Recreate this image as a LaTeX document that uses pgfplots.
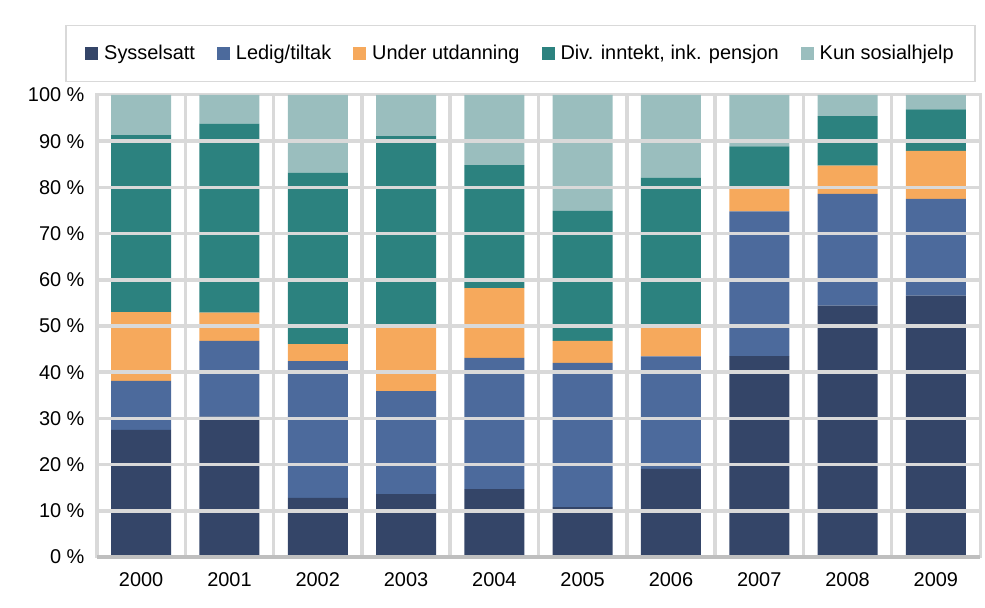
\documentclass[border=0pt]{standalone}
\usepackage{fontspec}
\setmainfont{Liberation Sans}
\usepackage{pgfplots}
\usepackage{pgfplotstable}
\pgfplotsset{compat=1.18}

\definecolor{syss}{HTML}{344568}
\definecolor{ledig}{HTML}{4C6A9C}
\definecolor{utd}{HTML}{F6A95C}
\definecolor{div}{HTML}{2C827F}
\definecolor{kun}{HTML}{9ABEBE}
\definecolor{framegray}{HTML}{D9D9D9}
\definecolor{basegray}{HTML}{BFBFBF}

% shares in percent, bottom to top
\pgfplotstableread{
x  syss  ledig utd  div  kun
0  27.5  10.6  14.9 38.3 8.7
1  30.4  16.4  6.1  40.9 6.2
2  12.8  29.6  3.7  37.1 16.8
3  13.6  22.3  13.9 41.3 8.9
4  14.7  28.4  15.1 26.6 15.2
5  10.8  31.2  4.8  28.1 25.1
6  19.1  24.3  6.4  32.3 17.9
7  43.5  31.3  4.8  9.3  11.1
8  54.4  24.2  6.1  10.7 4.6
9  56.6  20.9  10.4 9.0  3.1
}\shares

\begin{document}
\begin{tikzpicture}
\path[use as bounding box] (0,0) rectangle (985bp,608bp);
\begin{axis}[
  at={(97bp,51bp)}, anchor=south west,
  scale only axis, width=883bp, height=462bp,
  ybar stacked, bar width=60bp,
  xmin=-0.5, xmax=9.5, ymin=0, ymax=100,
  xtick={0,...,9},
  xticklabels={2000,2001,2002,2003,2004,2005,2006,2007,2008,2009},
  ytick={0,10,...,100},
  yticklabel={\pgfmathprintnumber{\tick}~\%},
  major tick length=0.01pt,
  axis line style={draw=framegray, line width=3bp},
  /pgf/number format/assume math mode=true,
  tick label style={font=\fontsize{20}{24}\selectfont},
  xticklabel style={yshift=-12bp},
  yticklabel style={xshift=-9bp},
  legend columns=5,
  legend style={at={(0.4796,1.0898)}, anchor=center,
    draw=framegray, line width=1.5bp,
    inner xsep=19bp, inner ysep=18bp,
    font=\fontsize{20}{24}\selectfont,
    /tikz/every odd column/.append style={column sep=4bp},
    /tikz/every even column/.append style={column sep=20bp}},
  legend image code/.code={\fill[#1, draw=none] (0bp,-6.5bp) rectangle (13bp,6.5bp);},
  after end axis/.code={\draw[basegray, line width=4bp] (rel axis cs:0,0) -- (rel axis cs:1,0);},
]
% grid behind the bars
\draw[framegray, line width=3.5bp]
  (axis cs:0.5,0) -- (axis cs:0.5,100)
  (axis cs:1.5,0) -- (axis cs:1.5,100)
  (axis cs:2.5,0) -- (axis cs:2.5,100)
  (axis cs:3.5,0) -- (axis cs:3.5,100)
  (axis cs:4.5,0) -- (axis cs:4.5,100)
  (axis cs:5.5,0) -- (axis cs:5.5,100)
  (axis cs:6.5,0) -- (axis cs:6.5,100)
  (axis cs:7.5,0) -- (axis cs:7.5,100)
  (axis cs:8.5,0) -- (axis cs:8.5,100)
  (axis cs:-0.5,10) -- (axis cs:9.5,10)
  (axis cs:-0.5,20) -- (axis cs:9.5,20)
  (axis cs:-0.5,30) -- (axis cs:9.5,30)
  (axis cs:-0.5,40) -- (axis cs:9.5,40)
  (axis cs:-0.5,50) -- (axis cs:9.5,50)
  (axis cs:-0.5,60) -- (axis cs:9.5,60)
  (axis cs:-0.5,70) -- (axis cs:9.5,70)
  (axis cs:-0.5,80) -- (axis cs:9.5,80)
  (axis cs:-0.5,90) -- (axis cs:9.5,90);
\addplot[fill=syss, draw=none] table[x=x, y=syss] {\shares};
\addplot[fill=ledig, draw=none] table[x=x, y=ledig] {\shares};
\addplot[fill=utd, draw=none] table[x=x, y=utd] {\shares};
\addplot[fill=div, draw=none] table[x=x, y=div] {\shares};
\addplot[fill=kun, draw=none] table[x=x, y=kun] {\shares};
\legend{Sysselsatt, Ledig/tiltak, Under utdanning, {Div. inntekt, ink. pensjon}, Kun sosialhjelp}
\end{axis}
\end{tikzpicture}
\end{document}
